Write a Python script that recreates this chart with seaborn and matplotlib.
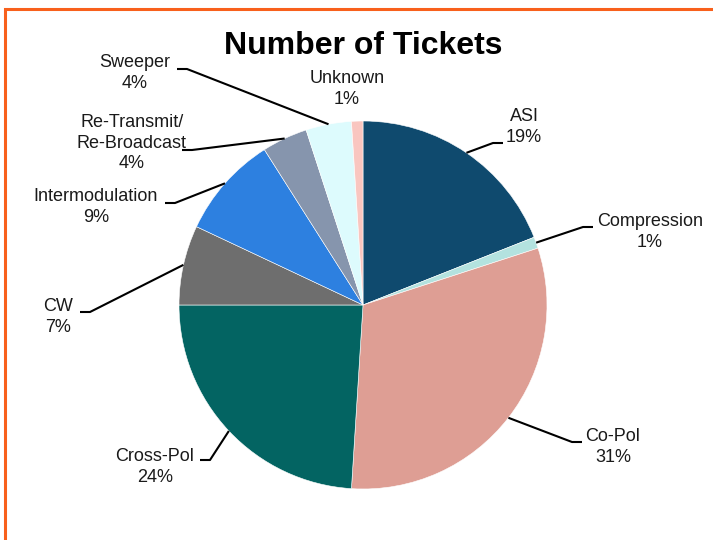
import numpy as np
import matplotlib
matplotlib.use("Agg")
import matplotlib.pyplot as plt
import seaborn as sns
from matplotlib.patches import Rectangle

# Daten
categories = ["ASI", "Compression", "Co-Pol", "Cross-Pol", "CW", "Intermodulation",
              "Re-Transmit/\nRe-Broadcast", "Sweeper", "Unknown"]
tickets_pct = [19, 1, 31, 24, 7, 9, 4, 4, 1]
colors = ["#0F4A6E", "#B3E2DF", "#DE9E94", "#036462", "#6E6E6E", "#2D80E0",
          "#8695AD", "#DDFBFD", "#F9C6C0"]

# Layout in Pixel (x, y von oben)
W, H = 713, 540
center_px = (363, 305)
radius = 184
label_pos = [(524, 127), (650, 232), (613, 447), (155, 467), (58, 317), (96, 207),
             (132, 143), (135, 73), (347, 89)]
elbow_pos = [(493, 143), (583, 227), (572, 442), (210, 460), (90, 312), (175, 203),
             (192, 150), (187, 69), None]
tail_len = 10

sns.set_theme(style="white")
plt.rcParams['font.family'] = ['Liberation Sans Narrow', 'Liberation Sans', 'DejaVu Sans']

def px(x, y):
    return x, H - y

fig = plt.figure(figsize=(W / 100, H / 100), dpi=100)
ax = fig.add_axes([0, 0, 1, 1])

wedges, _ = ax.pie(tickets_pct, colors=sns.color_palette(colors), startangle=90,
                   counterclock=False, center=px(*center_px), radius=radius,
                   wedgeprops=dict(edgecolor="white", linewidth=0.4))
ax.set_xlim(0, W)
ax.set_ylim(0, H)
ax.set_aspect("equal")
ax.axis("off")

cx, cy = px(*center_px)
for w, name, pct, lp, ep in zip(wedges, categories, tickets_pct, label_pos, elbow_pos):
    ax.text(*px(*lp), f"{name}\n{pct}%", ha="center", va="center", fontsize=13,
            color="#1a1a1a", linespacing=1.3)
    if ep is None:
        continue
    ang = np.deg2rad((w.theta1 + w.theta2) / 2)
    ax_, ay_ = cx + radius * np.cos(ang), cy + radius * np.sin(ang)
    ex, ey = px(*ep)
    side = 1 if lp[0] > ep[0] else -1
    ax.plot([ax_, ex, ex + side * tail_len], [ay_, ey, ey], color="black", lw=1.5,
            solid_capstyle="butt")

ax.text(*px(363, 46), "Number of Tickets", ha="center", va="center", fontsize=23,
        fontweight="bold", color="black")

# orange Umrandung
fig.patches.append(Rectangle((5 / W, -0.1), 1.2, (H - 9) / H + 0.1, transform=fig.transFigure,
                             fill=False, edgecolor="#F8601C", linewidth=2.2))

fig.savefig("out.png", dpi=100)
